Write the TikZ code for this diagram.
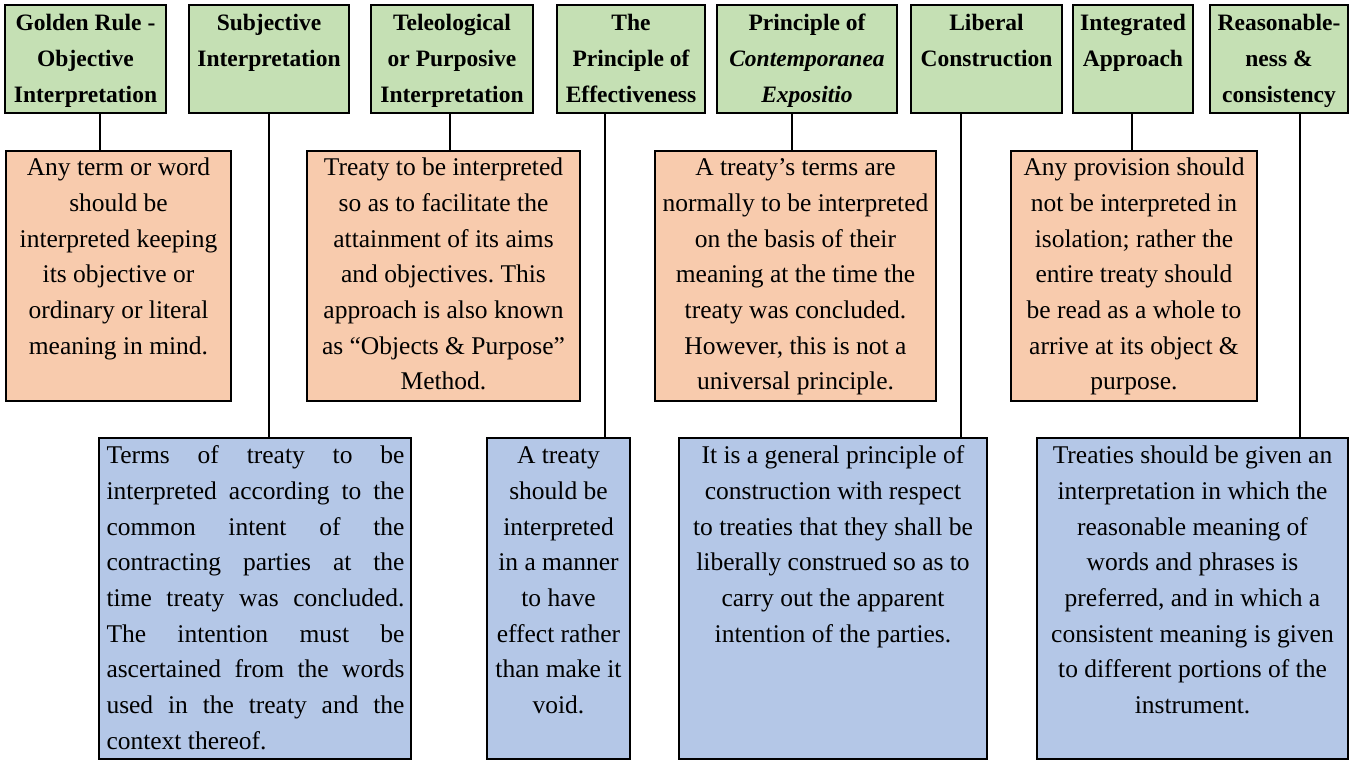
\documentclass[tikz,border=0pt]{standalone}
\usepackage{fontspec}
\setmainfont{Liberation Serif}
\frenchspacing
\definecolor{gfill}{HTML}{C5E0B4}
\definecolor{ofill}{HTML}{F8CBAD}
\definecolor{bfill}{HTML}{B4C7E7}
\newcommand{\FirstLine}{\rule{0pt}{20pt}}
\newcommand{\JL}[1]{\makebox[298pt][s]{#1}}
\tikzset{
  boxbase/.style={draw=black, line width=2pt, rectangle, inner sep=0pt, outer sep=0pt, anchor=north west},
  gbox/.style={boxbase, fill=gfill},
  obox/.style={boxbase, fill=ofill},
  bbox/.style={boxbase, fill=bfill},
  ttl/.style={inner sep=0pt, align=center, anchor=north, yshift=-5.5pt, font=\fontsize{23.5}{35.7}\selectfont\bfseries\frenchspacing},
  txt/.style={inner sep=0pt, align=center, anchor=north, font=\fontsize{25.5}{35.7}\selectfont\frenchspacing},
  otxt/.style={txt, yshift=-4.5pt},
  btxt/.style={txt, yshift=-5.5pt},
  conn/.style={draw=black, line width=2pt}
}
\begin{document}
\begin{tikzpicture}[x=1pt, y=-1pt]
\useasboundingbox (0,0) rectangle (1355,760);
% green title boxes
\node[gbox, minimum width=161pt, minimum height=108pt] (g1) at (5,5) {};
\node[gbox, minimum width=160pt, minimum height=108pt] (g2) at (189,5) {};
\node[gbox, minimum width=162pt, minimum height=108pt] (g3) at (371,5) {};
\node[gbox, minimum width=148pt, minimum height=108pt] (g4) at (557,5) {};
\node[gbox, minimum width=180pt, minimum height=108pt] (g5) at (717,5) {};
\node[gbox, minimum width=151pt, minimum height=108pt] (g6) at (911,5) {};
\node[gbox, minimum width=120pt, minimum height=108pt] (g7) at (1073,5) {};
\node[gbox, minimum width=138pt, minimum height=108pt] (g8) at (1210,5) {};
\node[ttl] (g1t) at (g1.north) {\FirstLine Golden Rule -\\Objective\\Interpretation};
\node[ttl] (g2t) at (g2.north) {\FirstLine Subjective\\Interpretation};
\node[ttl] (g3t) at (g3.north) {\FirstLine Teleological\\or Purposive\\Interpretation};
\node[ttl] (g4t) at (g4.north) {\FirstLine The\\Principle of\\Effectiveness};
\node[ttl] (g5t) at (g5.north) {\FirstLine Principle of\\\textit{Contemporanea}\\\textit{Expositio}};
\node[ttl] (g6t) at (g6.north) {\FirstLine Liberal\\Construction};
\node[ttl] (g7t) at (g7.north) {\FirstLine Integrated\\Approach};
\node[ttl] (g8t) at (g8.north) {\FirstLine Reasonable-\\ness \&\\consistency};
% orange boxes
\node[obox, minimum width=225pt, minimum height=250pt] (o1) at (6,151) {};
\node[obox, minimum width=273pt, minimum height=250pt] (o2) at (307,151) {};
\node[obox, minimum width=281pt, minimum height=250pt] (o3) at (655,151) {};
\node[obox, minimum width=246pt, minimum height=250pt] (o4) at (1011,151) {};
\node[otxt] (o1t) at (o1.north) {\FirstLine Any term or word\\should be\\interpreted keeping\\its objective or\\ordinary or literal\\meaning in mind.};
\node[otxt] (o2t) at (o2.north) {\FirstLine Treaty to be interpreted\\so as to facilitate the\\attainment of its aims\\and objectives. This\\approach is also known\\as “Objects \& Purpose”\\Method.};
\node[otxt] (o3t) at (o3.north) {\FirstLine A treaty’s terms are\\normally to be interpreted\\on the basis of their\\meaning at the time the\\treaty was concluded.\\However, this is not a\\universal principle.};
\node[otxt] (o4t) at (o4.north) {\FirstLine Any provision should\\not be interpreted in\\isolation; rather the\\entire treaty should\\be read as a whole to\\arrive at its object \&\\purpose.};
% blue boxes
\node[bbox, minimum width=312pt, minimum height=321pt] (b1) at (99,438) {};
\node[bbox, minimum width=143pt, minimum height=321pt] (b2) at (487,438) {};
\node[bbox, minimum width=308pt, minimum height=321pt] (b3) at (679,438) {};
\node[bbox, minimum width=311pt, minimum height=321pt] (b4) at (1037,438) {};
\node[btxt, xshift=0.5pt] (b1t) at (b1.north) {\FirstLine\JL{Terms of treaty to be}\\\JL{interpreted according to the}\\\JL{common intent of the}\\\JL{contracting parties at the}\\\JL{time treaty was concluded.}\\\JL{The intention must be}\\\JL{ascertained from the words}\\\JL{used in the treaty and the}\\\makebox[298pt][l]{context thereof.}};
\node[btxt] (b2t) at (b2.north) {\FirstLine A treaty\\should be\\interpreted\\in a manner\\to have\\effect rather\\than make it\\void.};
\node[btxt] (b3t) at (b3.north) {\FirstLine It is a general principle of\\construction with respect\\to treaties that they shall be\\liberally construed so as to\\carry out the apparent\\intention of the parties.};
\node[btxt] (b4t) at (b4.north) {\FirstLine Treaties should be given an\\interpretation in which the\\reasonable meaning of\\words and phrases is\\preferred, and in which a\\consistent meaning is given\\to different portions of the\\instrument.};
% connector positions
\coordinate (c1) at (100,0);
\coordinate (c2) at (269,0);
\coordinate (c3) at (450,0);
\coordinate (c4) at (605,0);
\coordinate (c5) at (792,0);
\coordinate (c6) at (961,0);
\coordinate (c7) at (1132,0);
\coordinate (c8) at (1300,0);
\draw[conn] (g1.south -| c1) -- (o1.north -| c1);
\draw[conn] (g2.south -| c2) -- (b1.north -| c2);
\draw[conn] (g3.south -| c3) -- (o2.north -| c3);
\draw[conn] (g4.south -| c4) -- (b2.north -| c4);
\draw[conn] (g5.south -| c5) -- (o3.north -| c5);
\draw[conn] (g6.south -| c6) -- (b3.north -| c6);
\draw[conn] (g7.south -| c7) -- (o4.north -| c7);
\draw[conn] (g8.south -| c8) -- (b4.north -| c8);
\end{tikzpicture}
\end{document}
